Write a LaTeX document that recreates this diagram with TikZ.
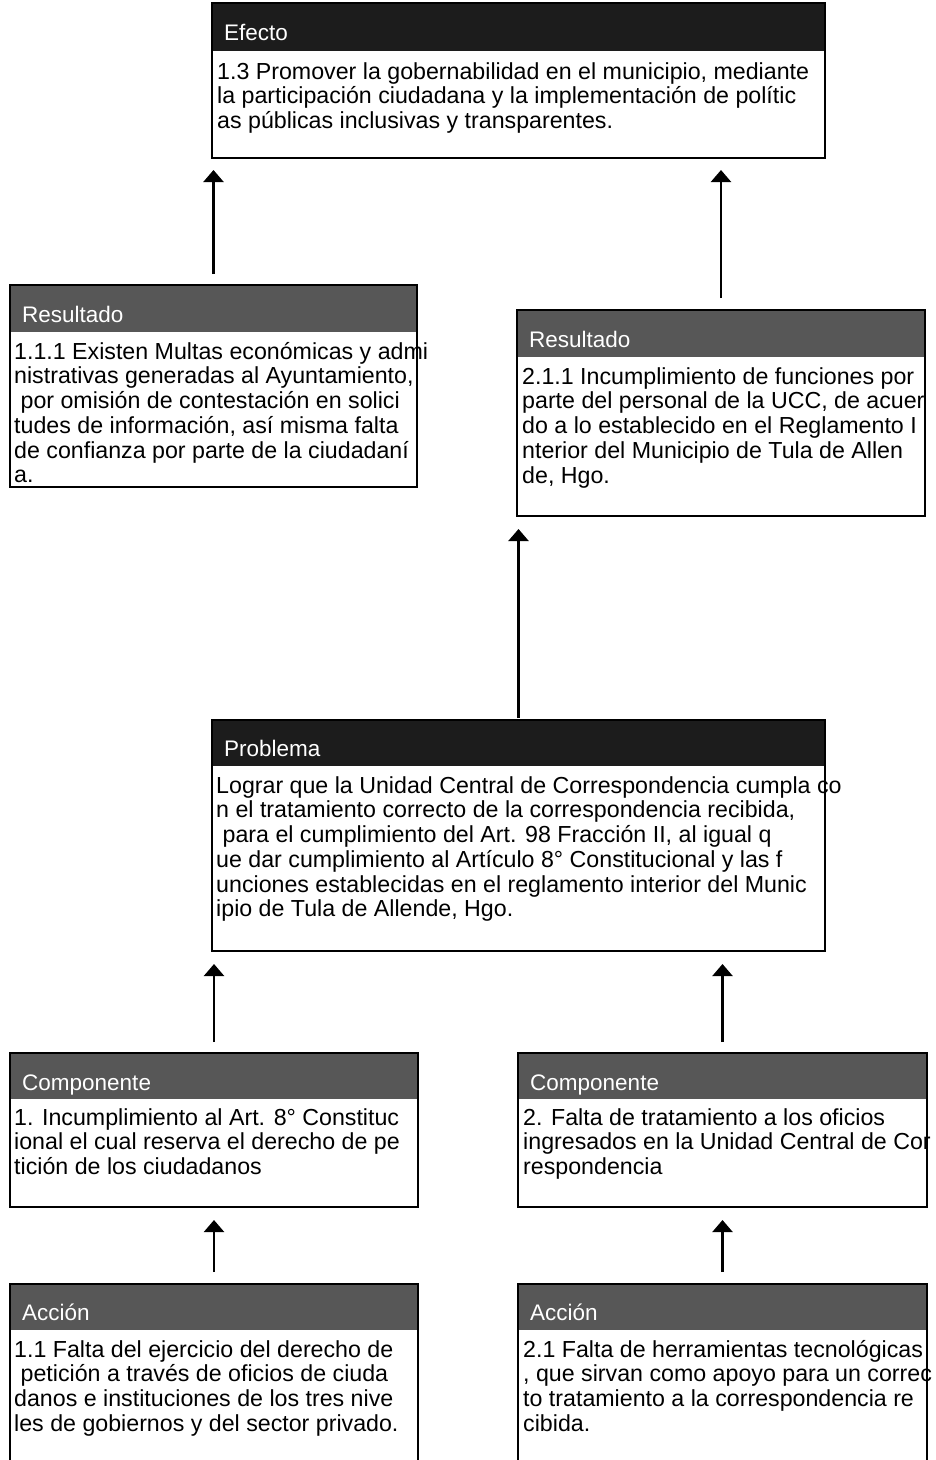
\documentclass[tikz,border=0pt]{standalone}
\usepackage{fontspec}
\setmainfont{Liberation Sans}
\usetikzlibrary{arrows.meta}
\definecolor{hdrdark}{HTML}{1C1C1C}
\definecolor{hdrgray}{HTML}{575757}
\newcommand{\fl}{\rule{0pt}{19pt}}
\newcommand{\ls}{\hspace*{.278em}}
\tikzset{
  frame/.style={draw=none, inner sep=0pt, outer sep=0pt, anchor=north west},
  border/.style={draw=black, line width=2pt},
  htext/.style={anchor=base west, inner sep=0pt, text=white, font=\fontsize{22.5}{24}\selectfont},
  btext/.style={anchor=north west, inner sep=0pt, align=left, text=black, font=\fontsize{23.2}{24.7}\selectfont},
  arr/.style={line width=2.2pt, -{Triangle[width=20pt,length=12pt]}},
}
\begin{document}
\begin{tikzpicture}[x=1pt,y=1pt]
\useasboundingbox (0,0) rectangle (936,-1460);
\fill[white] (0,0) rectangle (936,-1460);

% ---------- Efecto
\node[frame, minimum width=613pt, minimum height=155pt] (efecto) at (212,-3) {};
\fill[hdrdark] (efecto.north west) rectangle ([yshift=-48pt]efecto.north east);
\draw[border] (efecto.north west) rectangle (efecto.south east);
\node[htext] (efectoH) at ([xshift=12pt,yshift=-37pt]efecto.north west) {Efecto};
\node[btext] (efectoB) at ([xshift=5pt,yshift=-57pt]efecto.north west)
 {\fl 1.3 Promover la gobernabilidad en el municipio, mediante\\
  la participación ciudadana y la implementación de polític\\
  as públicas inclusivas y transparentes.};

% ---------- Resultado 1
\node[frame, minimum width=407pt, minimum height=202pt] (res1) at (10,-285) {};
\fill[hdrgray] (res1.north west) rectangle ([yshift=-47pt]res1.north east);
\draw[border] (res1.north west) rectangle (res1.south east);
\node[htext] (res1H) at ([xshift=12pt,yshift=-37pt]res1.north west) {Resultado};
\node[btext] (res1B) at ([xshift=4pt,yshift=-55pt]res1.north west)
 {\fl 1.1.1 Existen Multas económicas y admi\\
  nistrativas generadas al Ayuntamiento,\\
  \ls por omisión de contestación en solici\\
  tudes de información, así misma falta\\
  de confianza por parte de la ciudadaní\\
  a.};

% ---------- Resultado 2
\node[frame, minimum width=408pt, minimum height=206pt] (res2) at (517,-310) {};
\fill[hdrgray] (res2.north west) rectangle ([yshift=-47pt]res2.north east);
\draw[border] (res2.north west) rectangle (res2.south east);
\node[htext] (res2H) at ([xshift=12pt,yshift=-37pt]res2.north west) {Resultado};
\node[btext] (res2B) at ([xshift=5pt,yshift=-55pt]res2.north west)
 {\fl 2.1.1 Incumplimiento de funciones por\\
  parte del personal de la UCC, de acuer\\
  do a lo establecido en el Reglamento I\\
  nterior del Municipio de Tula de Allen\\
  de, Hgo.};

% ---------- Problema
\node[frame, minimum width=613pt, minimum height=231pt] (prob) at (212,-720) {};
\fill[hdrdark] (prob.north west) rectangle ([yshift=-46pt]prob.north east);
\draw[border] (prob.north west) rectangle (prob.south east);
\node[htext] (probH) at ([xshift=12pt,yshift=-36pt]prob.north west) {Problema};
\node[btext] (probB) at ([xshift=4pt,yshift=-54pt]prob.north west)
 {\fl Lograr que la Unidad Central de Correspondencia cumpla co\\
  n el tratamiento correcto de la correspondencia recibida,\\
  \ls para el cumplimiento del Art. 98 Fracción II, al igual q\\
  ue dar cumplimiento al Artículo 8° Constitucional y las f\\
  unciones establecidas en el reglamento interior del Munic\\
  ipio de Tula de Allende, Hgo.};

% ---------- Componente 1
\node[frame, minimum width=408pt, minimum height=154pt] (comp1) at (10,-1053) {};
\fill[hdrgray] (comp1.north west) rectangle ([yshift=-46pt]comp1.north east);
\draw[border] (comp1.north west) rectangle (comp1.south east);
\node[htext] (comp1H) at ([xshift=12pt,yshift=-37pt]comp1.north west) {Componente};
\node[btext] (comp1B) at ([xshift=4pt,yshift=-53pt]comp1.north west)
 {\fl 1. Incumplimiento al Art. 8° Constituc\\
  ional el cual reserva el derecho de pe\\
  tición de los ciudadanos};

% ---------- Componente 2
\node[frame, minimum width=409pt, minimum height=154pt] (comp2) at (518,-1053) {};
\fill[hdrgray] (comp2.north west) rectangle ([yshift=-46pt]comp2.north east);
\draw[border] (comp2.north west) rectangle (comp2.south east);
\node[htext] (comp2H) at ([xshift=12pt,yshift=-37pt]comp2.north west) {Componente};
\node[btext] (comp2B) at ([xshift=5pt,yshift=-53pt]comp2.north west)
 {\fl 2. Falta de tratamiento a los oficios\\
  ingresados en la Unidad Central de Cor\\
  respondencia};

% ---------- Accion 1
\node[frame, minimum width=408pt, minimum height=180pt] (acc1) at (10,-1284) {};
\fill[hdrgray] (acc1.north west) rectangle ([yshift=-46pt]acc1.north east);
\draw[border] (acc1.south west) -- (acc1.north west) -- (acc1.north east) -- (acc1.south east);
\node[htext] (acc1H) at ([xshift=12pt,yshift=-36pt]acc1.north west) {Acción};
\node[btext] (acc1B) at ([xshift=4pt,yshift=-54pt]acc1.north west)
 {\fl 1.1 Falta del ejercicio del derecho de\\
  \ls petición a través de oficios de ciuda\\
  danos e instituciones de los tres nive\\
  les de gobiernos y del sector privado.};

% ---------- Accion 2
\node[frame, minimum width=409pt, minimum height=180pt] (acc2) at (518,-1284) {};
\fill[hdrgray] (acc2.north west) rectangle ([yshift=-46pt]acc2.north east);
\draw[border] (acc2.south west) -- (acc2.north west) -- (acc2.north east) -- (acc2.south east);
\node[htext] (acc2H) at ([xshift=12pt,yshift=-36pt]acc2.north west) {Acción};
\node[btext] (acc2B) at ([xshift=5pt,yshift=-54pt]acc2.north west)
 {\fl 2.1 Falta de herramientas tecnológicas\\
  , que sirvan como apoyo para un correc\\
  to tratamiento a la correspondencia re\\
  cibida.};

% ---------- connectors
\draw[arr] ([yshift=11pt]res1.north) -- ([yshift=-12pt]res1.north |- efecto.south);
\draw[arr] ([yshift=12pt]res2.north) -- ([yshift=-12pt]res2.north |- efecto.south);
\draw[arr] ([yshift=2pt]prob.north) -- ([yshift=-13pt]prob.north |- res2.south);
\draw[arr] ([yshift=11pt]comp1.north) -- ([yshift=-13pt]comp1.north |- prob.south);
\draw[arr] ([yshift=11pt]comp2.north) -- ([yshift=-13pt]comp2.north |- prob.south);
\draw[arr] ([yshift=12pt]acc1.north) -- ([yshift=-13pt]acc1.north |- comp1.south);
\draw[arr] ([yshift=12pt]acc2.north) -- ([yshift=-13pt]acc2.north |- comp2.south);
\end{tikzpicture}
\end{document}
